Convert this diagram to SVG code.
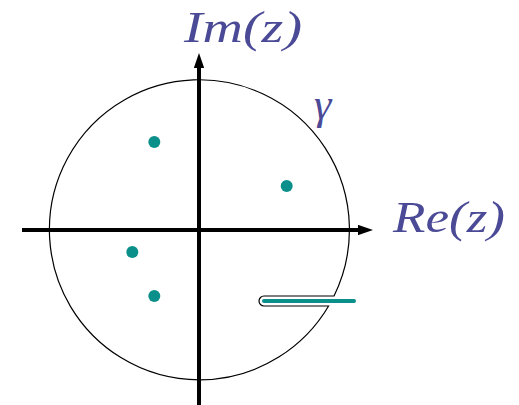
<svg xmlns="http://www.w3.org/2000/svg" width="519" height="405" viewBox="0 0 519 405">
<style>
.lbl{font-family:"Liberation Serif","DejaVu Serif",serif;font-style:italic;font-weight:normal;fill:#4b4a97}
.pole{fill:#0a8f8a}
.axis{stroke:#000;stroke-width:4;fill:none}
</style>
<defs>
<marker id="ah" markerWidth="3.75" markerHeight="2.6" refX="0" refY="1.3" orient="auto" markerUnits="strokeWidth">
<path d="M0,0 L3.75,1.3 L0,2.6 Z" fill="#000"/>
</marker>
</defs>
<rect width="519" height="405" fill="#fff"/>
<g id="contour">
<path d="M334,296 A150,150 0 1 0 328.6,306 L264,306 A5,5 0 0 1 264,296 Z" fill="none" stroke="#000" stroke-width="1.2"/>
</g>
<g id="connectors">
<line class="axis" x1="22" y1="230" x2="358" y2="230" marker-end="url(#ah)"/>
<line class="axis" x1="199" y1="405" x2="199" y2="68" marker-end="url(#ah)"/>
</g>
<g id="branch-cut">
<line x1="264" y1="301" x2="354" y2="301" stroke="#0a8f8a" stroke-width="4" stroke-linecap="round"/>
</g>
<g id="poles">
<circle class="pole" cx="154.3" cy="142" r="6"/>
<circle class="pole" cx="286.7" cy="186" r="6"/>
<circle class="pole" cx="132.3" cy="252" r="6"/>
<circle class="pole" cx="154.3" cy="296" r="6"/>
</g>
<g id="labels">
<text class="lbl" x="184" y="42" font-size="44" textLength="118" lengthAdjust="spacingAndGlyphs">Im(z)</text>
<text class="lbl" x="393" y="232" font-size="44" textLength="112" lengthAdjust="spacingAndGlyphs">Re(z)</text>
<text class="lbl" x="314" y="119" font-size="44">γ</text>
</g>
</svg>
